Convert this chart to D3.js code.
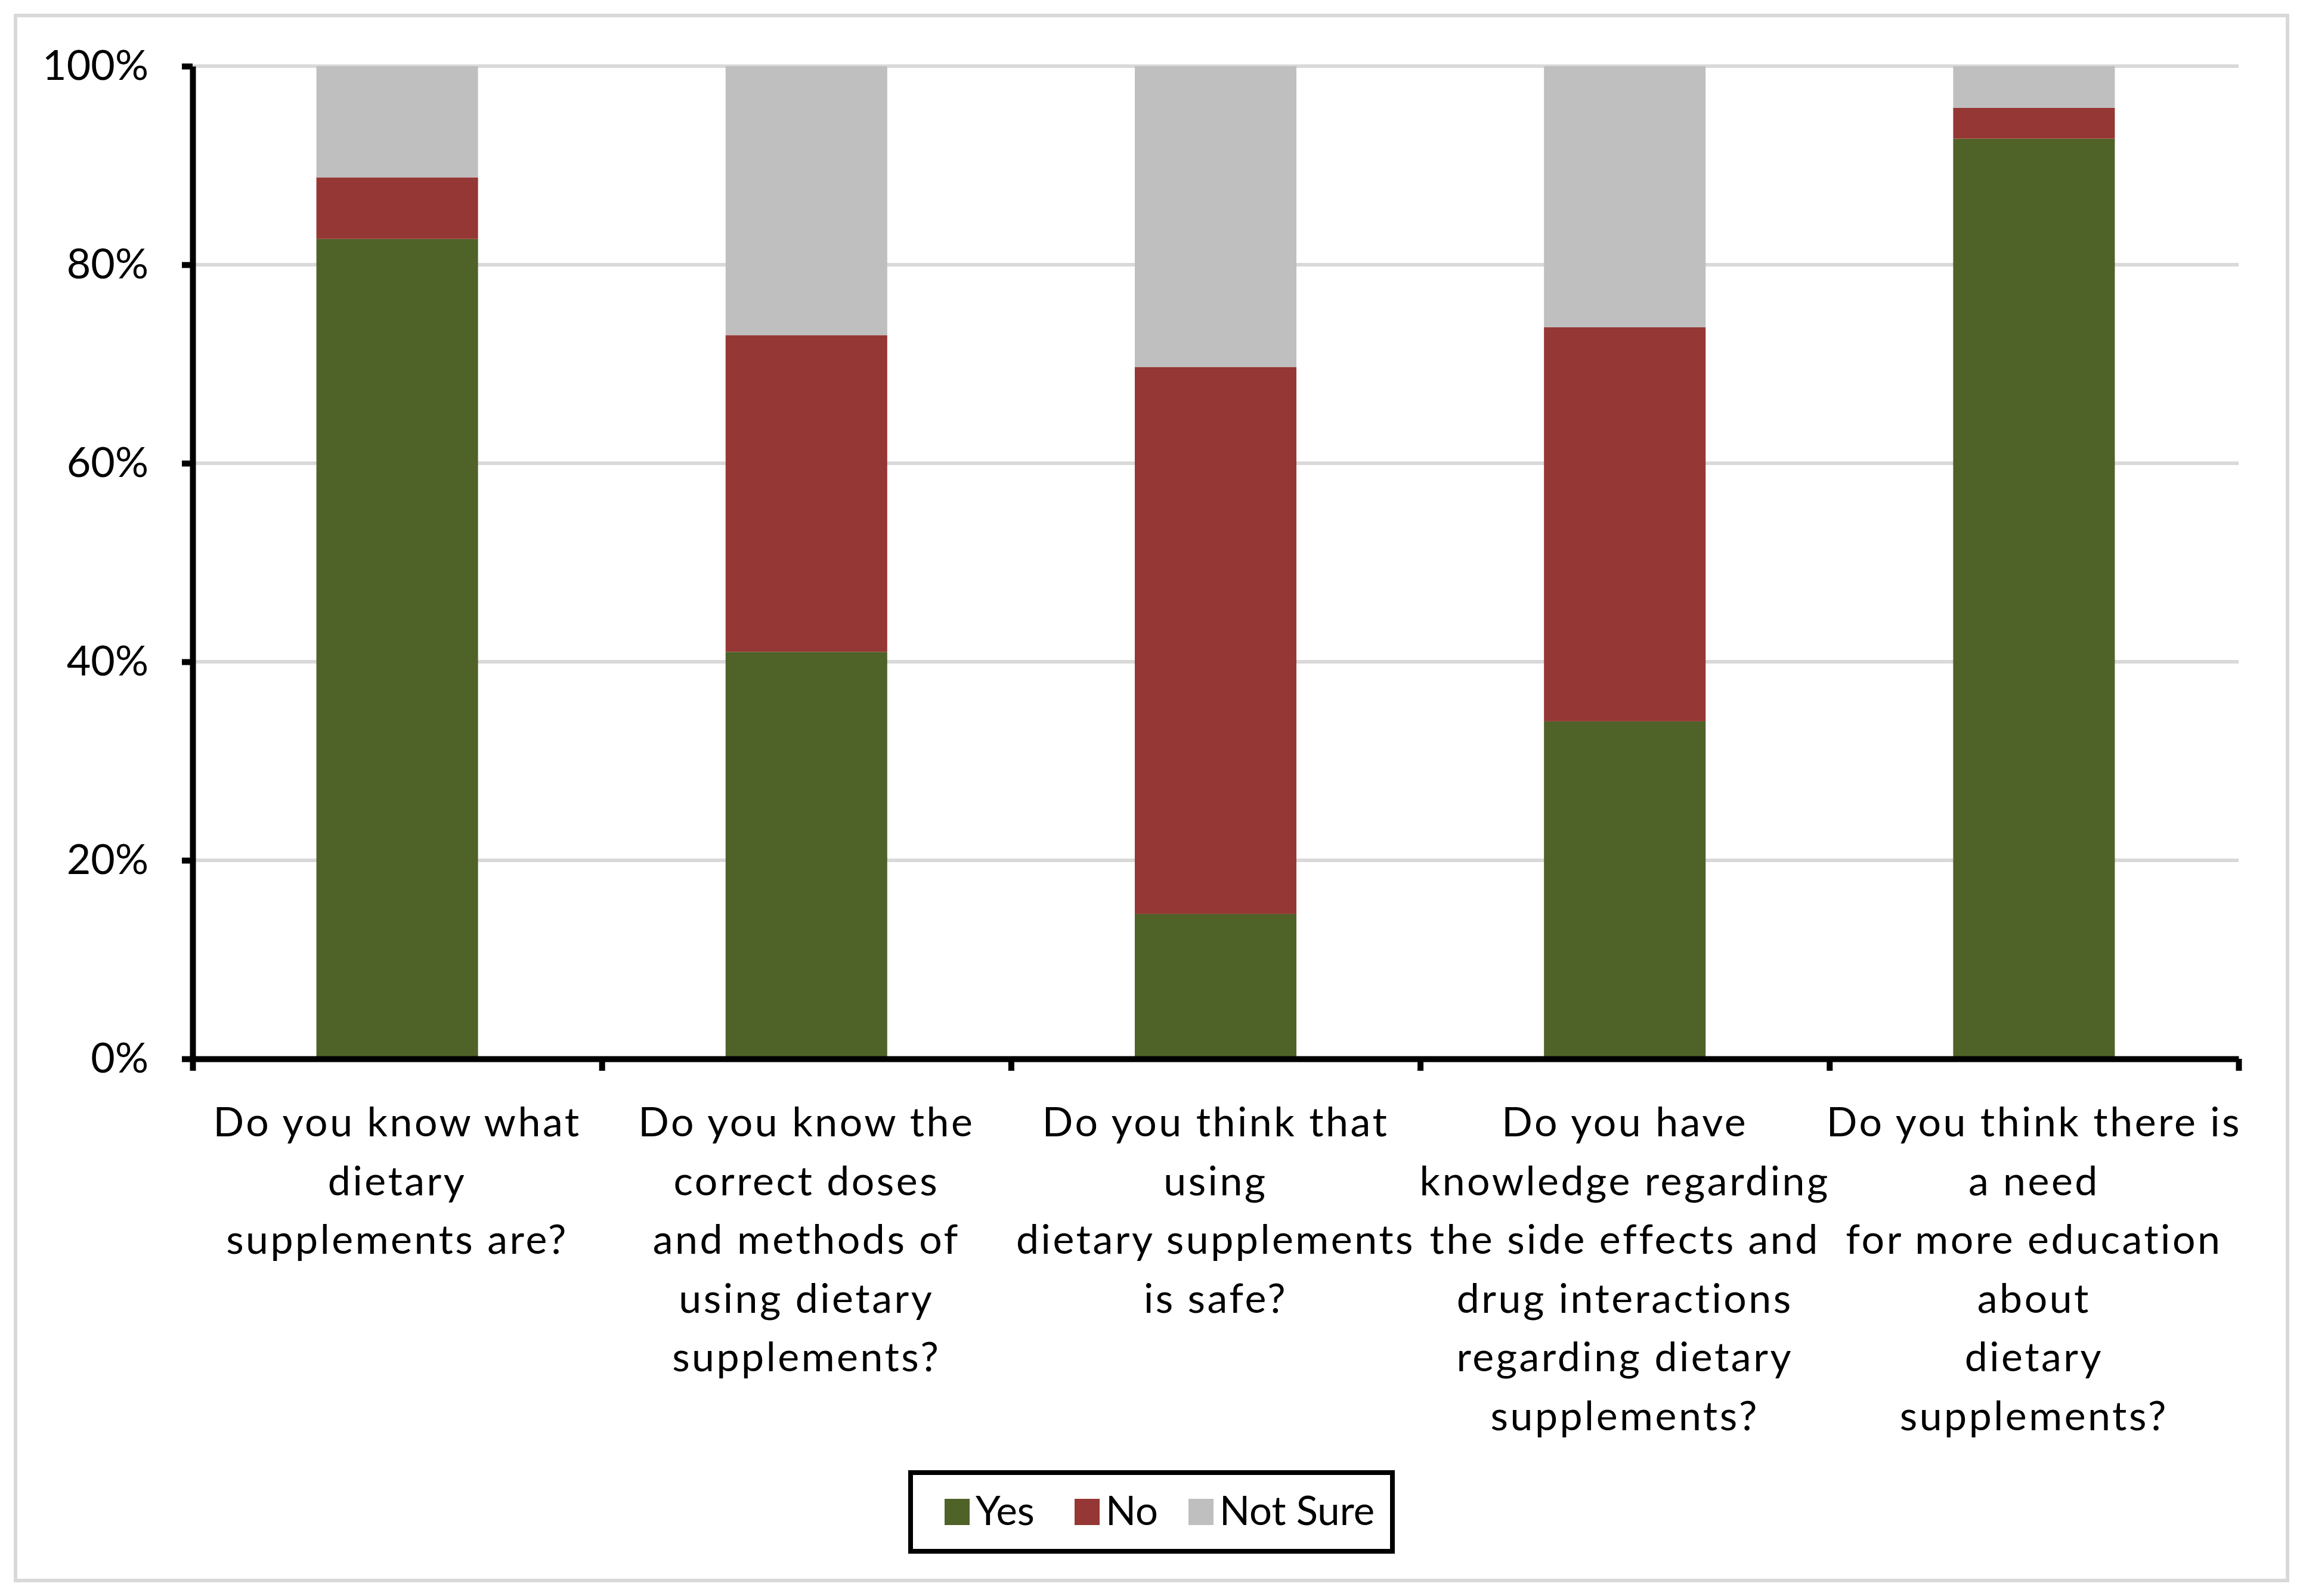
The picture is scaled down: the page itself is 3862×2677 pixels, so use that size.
<!DOCTYPE html>
<html>
<head>
<meta charset="utf-8">
<script src="https://cdn.jsdelivr.net/npm/d3@7"></script>
<style>
  body { margin: 0; background: #fff; }
  text { font-family: Lato, "Open Sans", sans-serif; fill: #000; }
</style>
</head>
<body>
<div id="chart"></div>
<script>
const categories = [
  "Do you know what\ndietary\nsupplements are?",
  "Do you know the\ncorrect doses\nand methods of\nusing dietary\nsupplements?",
  "Do you think that\nusing\ndietary supplements\nis safe?",
  "Do you have\nknowledge regarding\nthe side effects and\ndrug interactions\nregarding dietary\nsupplements?",
  "Do you think there is\na need\nfor more education\nabout\ndietary\nsupplements?"
];
const seriesNames = ["Yes", "No", "Not Sure"];
const yesValues = [82.6, 41.0, 14.6, 34.0, 92.7];
const noValues = [6.2, 31.9, 55.1, 39.7, 3.1];
const notSureValues = [11.2, 27.1, 30.3, 26.3, 4.2];
const yTicks = [0, 20, 40, 60, 80, 100];

const draw = (el) => {
  const dimensions = {
    width: 3862,
    height: 2677,
    left: 323,
    right: 3754,
    top: 111,
    bottom: 1776,
  };
  const fontSize = 66;

  const colors = d3.scaleOrdinal()
    .domain(seriesNames)
    .range(['#4f6228', '#953735', '#bfbfbf']);

  const rows = categories.map((c, i) => ({
    cat: c,
    "Yes": yesValues[i],
    "No": noValues[i],
    "Not Sure": notSureValues[i],
  }));
  const stacked = d3.stack().keys(seriesNames)(rows);

  const svg = d3.select(el)
    .append("svg")
    .attr("width", dimensions.width)
    .attr("height", dimensions.height);

  // outer frame
  svg.append('rect')
    .attr('x', 26).attr('y', 26)
    .attr('width', dimensions.width - 52)
    .attr('height', dimensions.height - 52)
    .attr('fill', '#fff')
    .attr('stroke', '#d9d9d9')
    .attr('stroke-width', 6);

  const x = d3.scaleBand()
    .domain(categories)
    .range([dimensions.left, dimensions.right])
    .paddingInner(0.605)
    .paddingOuter(0.3025);

  const y = d3.scaleLinear()
    .domain([0, 100])
    .range([dimensions.bottom, dimensions.top]);

  // gridlines
  svg.append('g')
    .selectAll('line')
    .data(yTicks.filter(d => d > 0))
    .join('line')
    .attr('x1', dimensions.left)
    .attr('x2', dimensions.right)
    .attr('y1', d => y(d))
    .attr('y2', d => y(d))
    .attr('stroke', '#d9d9d9')
    .attr('stroke-width', 6);

  // bars
  svg.append('g')
    .selectAll('g')
    .data(stacked)
    .join('g')
    .attr('fill', d => colors(d.key))
    .selectAll('rect')
    .data(d => d)
    .join('rect')
    .attr('x', d => x(d.data.cat))
    .attr('width', x.bandwidth())
    .attr('y', d => y(d[1]))
    .attr('height', d => y(d[0]) - y(d[1]));

  // y axis
  const yAxis = svg.append('g')
    .attr('transform', `translate(${dimensions.left}, 0)`)
    .call(d3.axisLeft(y).tickValues(yTicks).tickFormat(d => d + '%').tickSize(18).tickSizeOuter(0));
  yAxis.select('.domain').attr('stroke', '#000').attr('stroke-width', 10);
  yAxis.selectAll('.tick line').attr('stroke', '#000').attr('stroke-width', 10);
  yAxis.selectAll('.tick text')
    .attr('x', -74)
    .attr('font-size', 70)
    .style('font-family', 'Lato, sans-serif');

  // x axis: category boundary ticks
  const xEdges = d3.scaleLinear()
    .domain([0, categories.length])
    .range([dimensions.left, dimensions.right]);
  const xAxis = svg.append('g')
    .attr('transform', `translate(0, ${dimensions.bottom})`)
    .call(d3.axisBottom(xEdges).tickValues(d3.range(categories.length + 1)).tickFormat('').tickSize(20).tickSizeOuter(0));
  xAxis.select('.domain').attr('stroke', '#000').attr('stroke-width', 10);
  xAxis.selectAll('.tick line').attr('stroke', '#000').attr('stroke-width', 10);

  // category labels
  const lineHeight = 98.5;
  svg.append('g')
    .selectAll('text')
    .data(categories)
    .join('text')
    .attr('x', d => x(d) + x.bandwidth() / 2)
    .attr('y', 1906)
    .attr('text-anchor', 'middle')
    .attr('font-size', 68)
    .attr('letter-spacing', 3.5)
    .selectAll('tspan')
    .data(d => d.split('\n'))
    .join('tspan')
    .attr('x', function () { return this.parentNode.getAttribute('x'); })
    .attr('dy', (_, i) => i === 0 ? 0 : lineHeight)
    .text(d => d);

  // legend
  const legend = svg.append('g');
  legend.append('rect')
    .attr('x', 1527).attr('y', 2470)
    .attr('width', 808).attr('height', 132)
    .attr('fill', '#fff')
    .attr('stroke', '#000')
    .attr('stroke-width', 8);
  const legendX = [1584, 1802, 1993];
  const items = legend.selectAll('g')
    .data(seriesNames)
    .join('g')
    .attr('transform', (_, i) => `translate(${legendX[i]}, 2514)`);
  items.append('rect')
    .attr('width', 42).attr('height', 44)
    .attr('fill', d => colors(d));
  items.append('text')
    .attr('x', 52)
    .attr('y', 44)
    .attr('font-size', 67)
    .text(d => d);
};

draw('#chart');
</script>
</body>
</html>
